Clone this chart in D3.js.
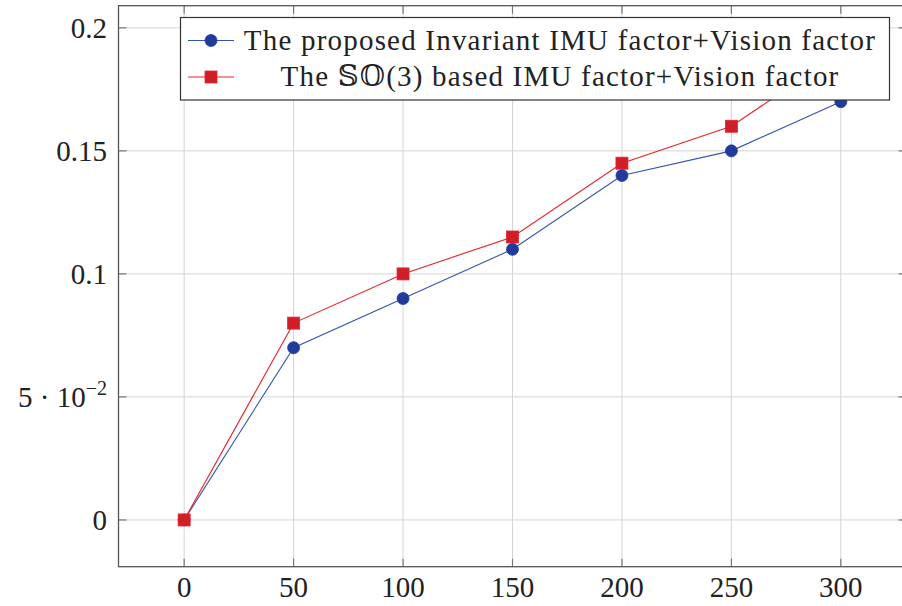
<!DOCTYPE html>
<html>
<head>
<meta charset="utf-8">
<script src="https://cdn.jsdelivr.net/npm/d3@7"></script>
<style>
  html, body { margin: 0; padding: 0; background: #fff; }
  svg { display: block; }
  text { font-family: "Liberation Serif", "DejaVu Serif", serif; fill: #222; }
</style>
</head>
<body>
<div id="root"></div>
<script>
const steps = [0, 50, 100, 150, 200, 250, 300]
const invariantErr = [0, 0.07, 0.09, 0.11, 0.14, 0.15, 0.17]
const so3Err = [0, 0.08, 0.1, 0.115, 0.145, 0.16, 0.19]
const xTicks = [0, 50, 100, 150, 200, 250, 300]
const yTicks = [0, 0.05, 0.1, 0.15, 0.2]
const yTickLabels = ['0', '5 · 10|−2', '0.1', '0.15', '0.2']
const seriesNames = [
  'The proposed Invariant IMU factor+Vision factor',
  'The 𝕊𝕆(3) based IMU factor+Vision factor'
]

const width = 902
const height = 606
const fontSize = 29

const box = { left: 118.5, right: 906.5, top: 5.7, bottom: 566.7 }

const svg = d3.select('#root').append('svg')
  .attr('width', width)
  .attr('height', height)

// pgfplots style: 10% enlarged limits
const scaleX = d3.scaleLinear()
  .domain([-30, 330])
  .range([box.left, box.right])

const scaleY = d3.scaleLinear()
  .domain([-0.019, 0.209])
  .range([box.bottom, box.top])

// grid
const grid = svg.append('g').attr('stroke', '#d4d4d4').attr('stroke-width', 1)
grid.selectAll('.gx')
  .data(xTicks)
  .enter()
  .append('line')
  .attr('x1', d => scaleX(d))
  .attr('x2', d => scaleX(d))
  .attr('y1', box.top)
  .attr('y2', box.bottom)
grid.selectAll('.gy')
  .data(yTicks)
  .enter()
  .append('line')
  .attr('x1', box.left)
  .attr('x2', box.right)
  .attr('y1', d => scaleY(d))
  .attr('y2', d => scaleY(d))

// inward tick marks on all four sides
const tickLen = 8
const tickG = svg.append('g').attr('stroke', '#777').attr('stroke-width', 1.2)
xTicks.forEach(d => {
  tickG.append('line').attr('x1', scaleX(d)).attr('x2', scaleX(d))
    .attr('y1', box.bottom).attr('y2', box.bottom - tickLen)
  tickG.append('line').attr('x1', scaleX(d)).attr('x2', scaleX(d))
    .attr('y1', box.top).attr('y2', box.top + tickLen)
})
yTicks.forEach(d => {
  tickG.append('line').attr('x1', box.left).attr('x2', box.left + tickLen)
    .attr('y1', scaleY(d)).attr('y2', scaleY(d))
  tickG.append('line').attr('x1', box.right).attr('x2', box.right - tickLen)
    .attr('y1', scaleY(d)).attr('y2', scaleY(d))
})

// axis box
svg.append('rect')
  .attr('x', box.left)
  .attr('y', box.top)
  .attr('width', box.right - box.left)
  .attr('height', box.bottom - box.top)
  .attr('fill', 'none')
  .attr('stroke', '#555')
  .attr('stroke-width', 1.3)

// x labels
svg.append('g')
  .selectAll('text')
  .data(xTicks)
  .enter()
  .append('text')
  .attr('x', d => scaleX(d))
  .attr('y', 597)
  .attr('text-anchor', 'middle')
  .attr('font-size', fontSize)
  .text(d => d)

// y labels, "a|b" means a with superscript b
const yLab = svg.append('g')
  .selectAll('text')
  .data(yTicks)
  .enter()
  .append('text')
  .attr('x', 107)
  .attr('y', d => scaleY(d) + 10)
  .attr('text-anchor', 'end')
  .attr('font-size', fontSize)
yLab.each(function(d, i) {
  const parts = yTickLabels[i].split('|')
  const t = d3.select(this)
  t.append('tspan').text(parts[0])
  if (parts[1]) {
    t.append('tspan')
      .attr('dy', -12)
      .attr('font-size', 20)
      .text(parts[1])
  }
})

const series = [
  { name: seriesNames[0], values: invariantErr, line: '#3454b4', fill: '#1f3c9c', shape: 'circle' },
  { name: seriesNames[1], values: so3Err, line: '#e8232d', fill: '#d01e27', shape: 'square' }
]

const line = d3.line()
  .x((d, i) => scaleX(steps[i]))
  .y(d => scaleY(d))

function drawMarker(g, shape, x, y, fill) {
  if (shape === 'circle') {
    g.append('circle').attr('cx', x).attr('cy', y).attr('r', 6)
      .attr('fill', fill).attr('stroke', fill).attr('stroke-width', 0.8)
  } else {
    g.append('rect').attr('x', x - 6).attr('y', y - 6).attr('width', 12).attr('height', 12)
      .attr('fill', fill).attr('stroke', '#e8232d').attr('stroke-width', 0.8)
  }
}

series.forEach(s => {
  const g = svg.append('g')
  g.append('path')
    .datum(s.values)
    .attr('d', line)
    .attr('fill', 'none')
    .attr('stroke', s.line)
    .attr('stroke-width', 1.1)
  s.values.forEach((v, i) => drawMarker(g, s.shape, scaleX(steps[i]), scaleY(v), s.fill))
})

// legend
const legend = svg.append('g')
legend.append('rect')
  .attr('x', 180.5)
  .attr('y', 17.5)
  .attr('width', 709)
  .attr('height', 82.5)
  .attr('fill', '#fff')
  .attr('stroke', '#333')
  .attr('stroke-width', 1.2)

const rowY = [40.5, 77]
series.forEach((s, i) => {
  const y = rowY[i]
  legend.append('line')
    .attr('x1', 188).attr('x2', 234)
    .attr('y1', y).attr('y2', y)
    .attr('stroke', s.line)
    .attr('stroke-width', 1.1)
  drawMarker(legend, s.shape, 211, y, s.fill)
  legend.append('text')
    .attr('x', 560)
    .attr('y', y + 9)
    .attr('text-anchor', 'middle')
    .attr('font-size', fontSize)
    .attr('letter-spacing', 1.2)
    .text(s.name)
})
</script>
</body>
</html>
